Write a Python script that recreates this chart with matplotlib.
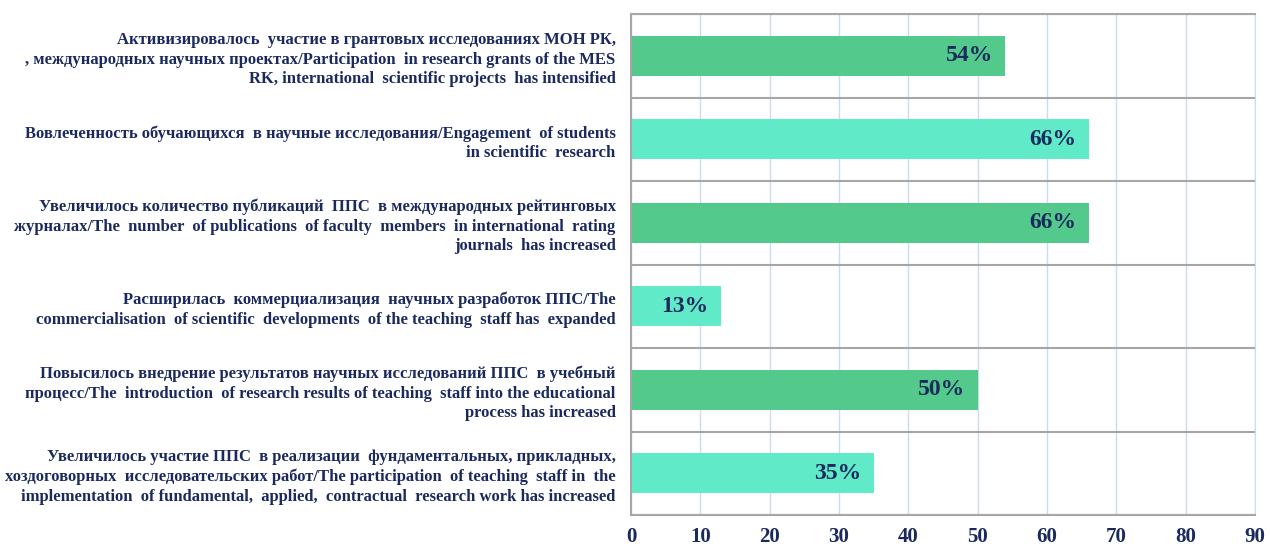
import matplotlib.pyplot as plt
from matplotlib.ticker import MultipleLocator

labels = [
    "Активизировалось  участие в грантовых исследованиях МОН РК,\n"
    ", международных научных проектах/Participation  in research grants of the MES\n"
    "RK, international  scientific projects  has intensified",
    "Вовлеченность обучающихся  в научные исследования/Engagement  of students\n"
    "in scientific  research",
    "Увеличилось количество публикаций  ППС  в международных рейтинговых\n"
    "журналах/The  number  of publications  of faculty  members  in international  rating\n"
    "journals  has increased",
    "Расширилась  коммерциализация  научных разработок ППС/The\n"
    "commercialisation  of scientific  developments  of the teaching  staff has  expanded",
    "Повысилось внедрение результатов научных исследований ППС  в учебный\n"
    "процесс/The  introduction  of research results of teaching  staff into the educational\n"
    "process has increased",
    "Увеличилось участие ППС  в реализации  фундаментальных, прикладных,\n"
    "хоздоговорных  исследовательских работ/The participation  of teaching  staff in  the\n"
    "implementation  of fundamental,  applied,  contractual  research work has increased",
]
values = [54, 66, 66, 13, 50, 35]
colors = ["#53C98B", "#60EAC7", "#53C98B", "#60EAC7", "#53C98B", "#60EAC7"]

navy = "#1B2A5E"
plt.rcParams["font.family"] = ["Liberation Serif", "DejaVu Serif"]
plt.rcParams["font.weight"] = "bold"

fig = plt.figure(figsize=(12.7, 5.47), dpi=100)
ax = fig.add_axes([631 / 1270, 1 - 515 / 547, 624 / 1270, 501 / 547])

y = list(range(len(values)))
ax.barh(y, values, height=0.48, color=colors, zorder=2)
ax.set_xlim(0, 90)
ax.set_ylim(len(values) - 0.5, -0.5)

ax.xaxis.set_major_locator(MultipleLocator(10))
ax.grid(axis="x", color="#CCDBEF", linewidth=1, zorder=0)
ax.set_yticks([i + 0.5 for i in range(-1, len(values))], minor=True)
ax.grid(axis="y", which="minor", color="#A6A6A6", linewidth=1.5, zorder=1)
ax.set_yticks(y)
ax.set_yticklabels(labels, fontsize=12, color=navy, fontweight="bold",
                   linespacing=1.3)
ax.tick_params(axis="y", which="both", length=0, pad=11)
ax.tick_params(axis="x", length=0, pad=9, labelsize=15, labelcolor=navy)

for s in ["top", "bottom", "left"]:
    ax.spines[s].set_color("#A6A6A6")
    ax.spines[s].set_linewidth(1.5)
ax.spines["right"].set_color("#CCDBEF")

for i, v in enumerate(values):
    ax.annotate(f"{v}%", xy=(v, i), xytext=(-9, 0), textcoords="offset points",
                ha="right", va="center", fontsize=17, color=navy,
                fontweight="bold", zorder=3)

fig.savefig("out.png", dpi=100)
